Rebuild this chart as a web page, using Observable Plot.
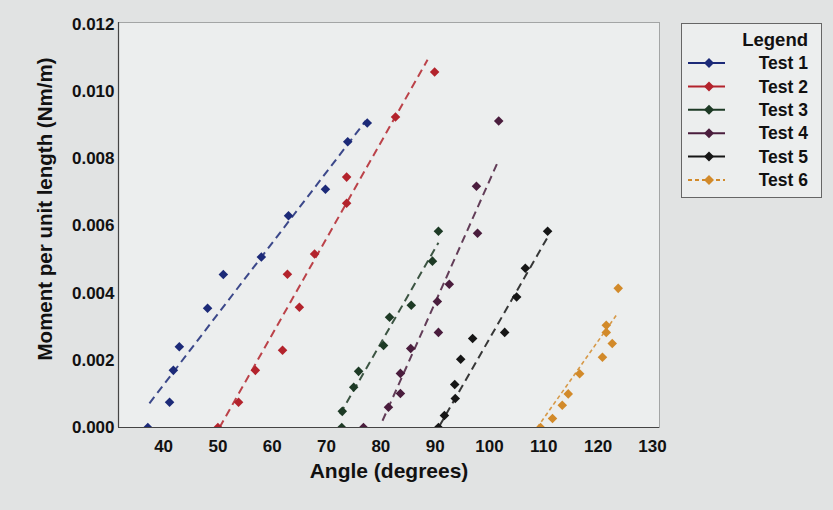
<!DOCTYPE html>
<html><head><meta charset="utf-8">
<script src="https://cdn.jsdelivr.net/npm/d3@7"></script>
<script src="https://cdn.jsdelivr.net/npm/@observablehq/plot@0.6"></script>
<style>
html,body{margin:0;padding:0;background:#e1e3e3;}
#wrap{position:relative;width:833px;height:510px;font-family:"Liberation Sans",Arial,sans-serif;}
#legend{position:absolute;left:681px;top:23px;}
</style></head><body><div id="wrap"></div>
<script>
const seriesNames = ["Test 1","Test 2","Test 3","Test 4","Test 5","Test 6"];
const seriesColors = ["#1c2a78","#b3232c","#1d3a25","#4a1d3d","#161616","#d28a2a"];

const test1X = [37.1, 41.1, 41.8, 42.9, 48.1, 51.0, 58.0, 63.0, 69.8, 73.9, 77.5];
const test1Y = [0, 0.00075, 0.0017, 0.0024, 0.00355, 0.00455, 0.00507, 0.0063, 0.00709, 0.0085, 0.00906];
const test2X = [50.0, 53.8, 56.9, 61.9, 62.8, 65.0, 67.8, 73.7, 73.7, 82.7, 89.9];
const test2Y = [0, 0.00075, 0.0017, 0.0023, 0.00456, 0.00358, 0.00516, 0.00667, 0.00745, 0.00924, 0.01058];
const test3X = [72.8, 72.9, 75.0, 75.9, 80.5, 81.6, 85.6, 89.5, 90.6];
const test3Y = [0, 0.00048, 0.0012, 0.00167, 0.00244, 0.00328, 0.00364, 0.00495, 0.00584];
const test4X = [76.8, 81.4, 83.6, 83.6, 85.5, 90.6, 90.4, 92.6, 97.8, 97.6, 101.7];
const test4Y = [0, 0.0006, 0.00101, 0.00161, 0.00235, 0.00283, 0.00375, 0.00426, 0.00578, 0.00718, 0.00912];
const test5X = [90.6, 91.7, 93.7, 93.6, 94.7, 96.9, 102.8, 105.0, 106.6, 110.7];
const test5Y = [0, 0.00036, 0.00086, 0.00128, 0.00203, 0.00265, 0.00283, 0.00388, 0.00474, 0.00584];
const test6X = [109.4, 111.6, 113.4, 114.5, 116.6, 120.8, 122.6, 121.5, 121.5, 123.7];
const test6Y = [0, 0.00027, 0.00066, 0.001, 0.0016, 0.00209, 0.0025, 0.00283, 0.00304, 0.00414];

// fitted trend lines (start / end)
const trendX1 = [37.4, 50.3, 72.5, 80.3, 90.8, 108.8];
const trendY1 = [0.00072, 0.0, 0.0004, 0.0002, 0.00005, 0.0];
const trendX2 = [77.2, 88.6, 90.6, 101.7, 110.7, 123.6];
const trendY2 = [0.00912, 0.01094, 0.0055, 0.00796, 0.00566, 0.0034];

const xTicks = [40, 50, 60, 70, 80, 90, 100, 110, 120, 130];
const yTicks = [0, 0.002, 0.004, 0.006, 0.008, 0.010, 0.012];
const xTitle = "Angle (degrees)";
const yTitle = "Moment per unit length (Nm/m)";
const legendTitle = "Legend";

const allX = [test1X, test2X, test3X, test4X, test5X, test6X];
const allY = [test1Y, test2Y, test3Y, test4Y, test5Y, test6Y];
const data = [];
allX.forEach((xs, i) => xs.forEach((x, j) => data.push({series: seriesNames[i], x, y: allY[i][j]})));
const trends = seriesNames.map((s, i) => ({series: s, x1: trendX1[i], y1: trendY1[i], x2: trendX2[i], y2: trendY2[i]}));
const trendMain = trends.filter(d => d.series !== "Test 6");
const trendLast = trends.filter(d => d.series === "Test 6");

const font = "'Liberation Sans', Arial, sans-serif";
const chart = Plot.plot({
  width: 833, height: 510,
  marginLeft: 118, marginRight: 174, marginTop: 22, marginBottom: 83,
  style: {background: "transparent", fontFamily: font, color: "#111"},
  x: {domain: [31.7, 131.3]},
  y: {domain: [0, 0.01205]},
  color: {domain: seriesNames, range: seriesColors},
  marks: [
    Plot.frame({fill: "#eceeee", stroke: "#a3a5a5", strokeWidth: 1}),
    Plot.ruleY([0], {stroke: "#444", strokeWidth: 1.2}),
    Plot.ruleX([31.7], {stroke: "#444", strokeWidth: 1.2}),
    Plot.axisX({ticks: xTicks, tickSize: 0, tickPadding: 12, fontSize: 17, fontWeight: "bold", label: null}),
    Plot.axisY({ticks: yTicks, tickSize: 0, tickPadding: 4, fontSize: 17, fontWeight: "bold", tickFormat: d3.format(".3f"), label: null}),
    Plot.link(trendMain, {x1: "x1", y1: "y1", x2: "x2", y2: "y2", stroke: "series", strokeWidth: 2, strokeDasharray: "8,5", strokeOpacity: 0.85, clip: true}),
    Plot.link(trendLast, {x1: "x1", y1: "y1", x2: "x2", y2: "y2", stroke: "series", strokeWidth: 1.6, strokeDasharray: "4,3", strokeOpacity: 0.85, clip: true}),
    Plot.dot(data, {x: "x", y: "y", fill: "series", symbol: "diamond2", r: 4.3, clip: true}),
    Plot.text([xTitle], {frameAnchor: "bottom", dy: 44, fontSize: 21, fontWeight: "bold", textAnchor: "middle", lineAnchor: "middle", fill: "#111"}),
    Plot.text([yTitle], {frameAnchor: "left", dx: -73, dy: -16, rotate: -90, fontSize: 20.5, fontWeight: "bold", textAnchor: "middle", lineAnchor: "middle", fill: "#111"})
  ]
});
document.getElementById("wrap").appendChild(chart);

// legend
const lw = 141, lh = 175;
const leg = d3.select("#wrap").append("div").attr("id", "legend")
  .append("svg").attr("width", lw).attr("height", lh).style("font-family", font);
leg.append("rect").attr("x", 0.5).attr("y", 0.5).attr("width", lw - 1).attr("height", lh - 1)
  .attr("fill", "#eceeee").attr("stroke", "#666").attr("stroke-width", 1);
leg.append("text").attr("x", 127).attr("y", 17).attr("text-anchor", "end").attr("dy", "0.35em")
  .attr("font-size", 18.5).attr("font-weight", "bold").attr("fill", "#111").text(legendTitle);
seriesNames.forEach((name, i) => {
  const cy = 40 + i * 23.4;
  leg.append("line").attr("x1", 7).attr("x2", 44).attr("y1", cy).attr("y2", cy)
    .attr("stroke", seriesColors[i]).attr("stroke-width", 2)
    .attr("stroke-dasharray", i === 5 ? "4,3" : null);
  leg.append("path").attr("d", d3.symbol(d3.symbolDiamond2, 64)()).attr("transform", `translate(28,${cy})`)
    .attr("fill", seriesColors[i]);
  leg.append("text").attr("x", 127).attr("y", cy).attr("dy", "0.35em").attr("text-anchor", "end")
    .attr("font-size", 17.5).attr("font-weight", "bold").attr("fill", "#111").text(name);
});
</script></body></html>
